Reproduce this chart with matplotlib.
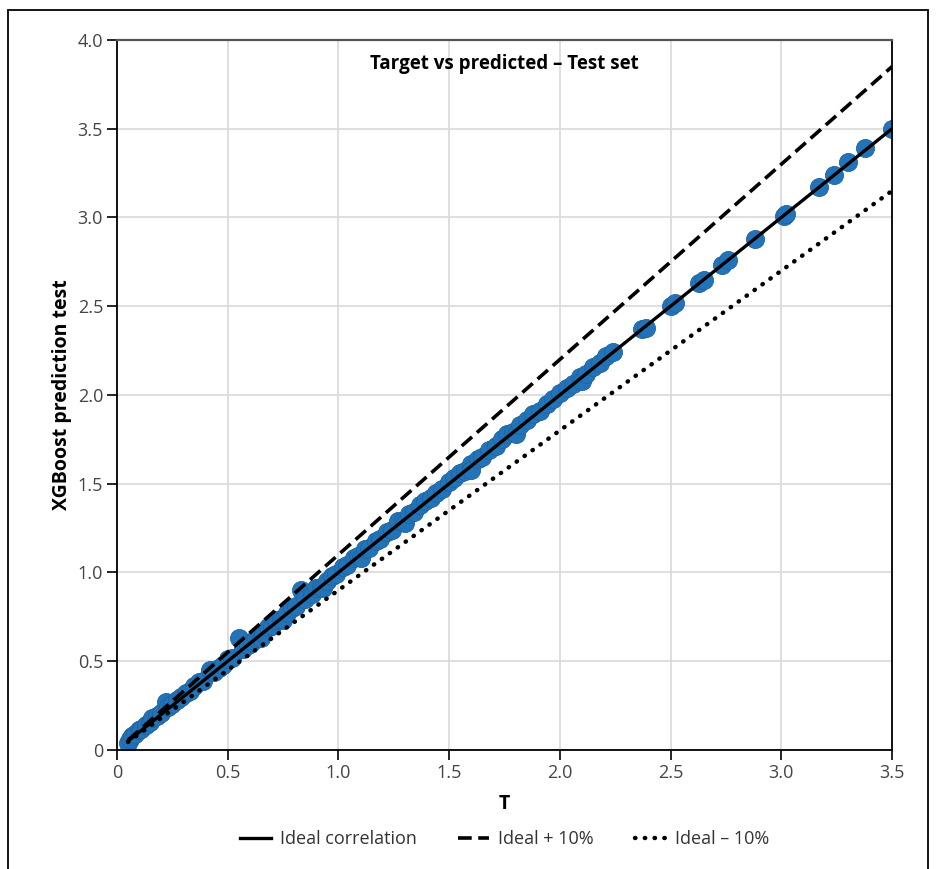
import numpy as np
import matplotlib.pyplot as plt
from matplotlib.patches import Rectangle
from matplotlib.ticker import FuncFormatter

plt.rcParams['font.family'] = ['Open Sans', 'DejaVu Sans']

# Target values and XGBoost predictions
target = [0.05, 0.06, 0.07, 0.08, 0.10, 0.11, 0.13, 0.15, 0.16, 0.18, 0.20, 0.22,
          0.23, 0.25, 0.27, 0.29, 0.31, 0.33, 0.35, 0.37, 0.39, 0.42, 0.44, 0.46,
          0.48, 0.50, 0.52, 0.55, 0.57, 0.59, 0.61, 0.63, 0.65, 0.66, 0.68, 0.70,
          0.72, 0.74, 0.75, 0.77, 0.79, 0.81, 0.83, 0.85, 0.88, 0.90, 0.92, 0.93,
          0.95, 0.97, 0.99, 1.02, 1.04, 1.07, 1.09, 1.10, 1.12, 1.14, 1.17, 1.19,
          1.22, 1.24, 1.27, 1.29, 1.30, 1.32, 1.34, 1.37, 1.39, 1.42, 1.44, 1.47,
          1.50, 1.52, 1.55, 1.57, 1.60, 1.60, 1.63, 1.65, 1.68, 1.71, 1.74, 1.76,
          1.79, 1.80, 1.82, 1.85, 1.88, 1.91, 1.94, 1.97, 2.00, 2.03, 2.06, 2.09,
          2.10, 2.12, 2.15, 2.18, 2.21, 2.24,
          2.37, 2.39, 2.50, 2.52, 2.63, 2.65, 2.73, 2.76, 2.88, 3.01, 3.02,
          3.17, 3.24, 3.30, 3.38, 3.50]
predicted = [0.04, 0.06, 0.08, 0.09, 0.11, 0.12, 0.14, 0.16, 0.18, 0.19, 0.21, 0.27,
             0.24, 0.26, 0.28, 0.30, 0.32, 0.33, 0.36, 0.38, 0.39, 0.45, 0.44, 0.46,
             0.48, 0.51, 0.52, 0.63, 0.57, 0.59, 0.61, 0.63, 0.63, 0.66, 0.69, 0.70,
             0.73, 0.74, 0.73, 0.77, 0.80, 0.81, 0.90, 0.85, 0.88, 0.91, 0.92, 0.91,
             0.95, 0.98, 0.99, 1.03, 1.04, 1.08, 1.09, 1.08, 1.13, 1.14, 1.18, 1.19,
             1.23, 1.24, 1.29, 1.29, 1.28, 1.33, 1.34, 1.38, 1.40, 1.42, 1.45, 1.47,
             1.51, 1.53, 1.56, 1.57, 1.61, 1.58, 1.64, 1.65, 1.69, 1.71, 1.75, 1.78,
             1.79, 1.78, 1.83, 1.86, 1.89, 1.91, 1.95, 1.98, 2.01, 2.04, 2.06, 2.10,
             2.08, 2.12, 2.16, 2.18, 2.22, 2.24,
             2.37, 2.38, 2.50, 2.52, 2.63, 2.65, 2.73, 2.76, 2.88, 3.01, 3.02,
             3.17, 3.24, 3.31, 3.39, 3.50]

# Reference lines
line_x = np.array([0.05, 3.5])
tolerance = 0.10

fig = plt.figure(figsize=(9.38, 8.69), dpi=100)
ax = fig.add_axes([0.1247, 0.137, 0.8263, 0.817])

# Outer frame around the figure
fig.patches.append(Rectangle((0.0085, -0.02), 0.981, 1.0085, transform=fig.transFigure,
                             fill=False, edgecolor='black', linewidth=1.3))

ax.scatter(target, predicted, s=170, color='#2273b7', edgecolor='#1e64a3',
           linewidth=0.6, zorder=2)

ax.plot(line_x, line_x, color='black', linewidth=2.4, zorder=3, label='Ideal correlation')
ax.plot(line_x, line_x * (1 + tolerance), color='black', linewidth=2.6,
        linestyle=(0, (3.8, 1.8)), zorder=3, label='Ideal + 10%')
ax.plot(line_x, line_x * (1 - tolerance), color='black', linewidth=3.2,
        linestyle=(0, (0.1, 2.1)), dash_capstyle='round', zorder=3, label='Ideal \u2013 10%')

ax.set_xlim(0, 3.5)
ax.set_ylim(0, 4.0)
ax.set_xticks(np.arange(0, 3.51, 0.5))
ax.set_yticks(np.arange(0, 4.01, 0.5))
fmt = FuncFormatter(lambda v, p: '0' if abs(v) < 1e-9 else f'{v:.1f}')
ax.xaxis.set_major_formatter(fmt)
ax.yaxis.set_major_formatter(fmt)
ax.grid(True, color='#d9d9d9', linewidth=1.2, zorder=0)
ax.set_axisbelow(True)
ax.tick_params(axis='both', labelsize=13, labelcolor='#444444', length=7, width=1.2,
               direction='out', pad=3)
for side in ['left', 'bottom', 'right']:
    ax.spines[side].set_color('black')
    ax.spines[side].set_linewidth(1.3)
ax.spines['top'].set_color('#555555')
ax.spines['top'].set_linewidth(1.6)

ax.set_xlabel('T', fontsize=14, fontweight='bold', labelpad=9)
ax.set_ylabel('XGBoost prediction test', fontsize=14, fontweight='bold', labelpad=4)
ax.text(0.5, 0.98, 'Target vs predicted \u2013 Test set', transform=ax.transAxes,
        ha='center', va='top', fontsize=13.5, fontweight='bold')

ax.legend(loc='upper center', bbox_to_anchor=(0.5, -0.09), ncol=3, frameon=False,
          fontsize=13, handlelength=1.7, columnspacing=2.3, handletextpad=0.5,
          labelcolor='#333333')

plt.savefig('out.png', dpi=100)
plt.close()
